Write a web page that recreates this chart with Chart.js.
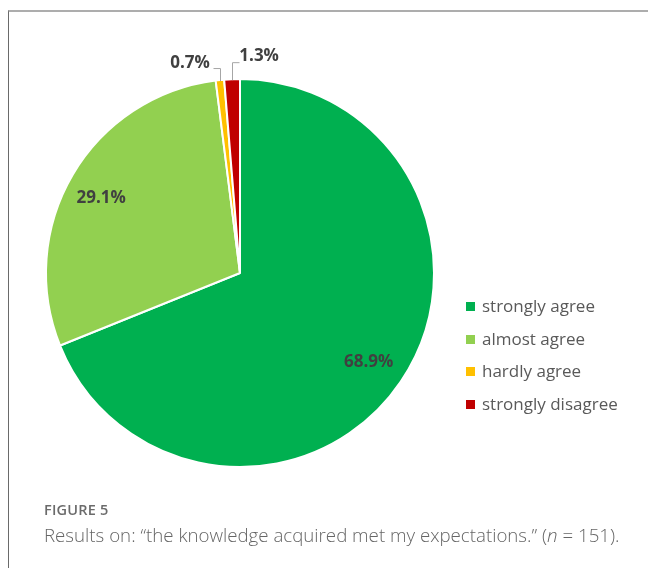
<!DOCTYPE html>
<html>
<head>
<meta charset="utf-8">
<script src="https://cdn.jsdelivr.net/npm/chart.js@4.4.0/dist/chart.umd.min.js"></script>
<style>
  html, body { margin: 0; padding: 0; background: #fff; }
  body { width: 648px; height: 568px; position: relative; overflow: hidden; font-family: "Open Sans", sans-serif; }
  #frame { position: absolute; left: 8px; top: 10px; width: 660px; height: 600px; border-top: 2px solid #adadad; border-left: 1px solid #6a6a6a; }
  #chartBox { position: absolute; left: 0; top: 0; width: 648px; height: 568px; }
  #legend { position: absolute; left: 466px; top: 294px; margin: 0; padding: 0; list-style: none; }
  #legend li { height: 32.7px; line-height: 24px; font-size: 17px; color: #595959; white-space: nowrap; }
  #legend span { display: inline-block; width: 9px; height: 9px; margin-right: 7px; vertical-align: 1px; }
  #figLabel { position: absolute; left: 44px; top: 500px; font-size: 14.5px; font-weight: 600; color: #6b6b6b; letter-spacing: 0.2px; }
  #caption { position: absolute; left: 44px; top: 522px; font-size: 18.7px; font-weight: 300; color: #666; white-space: nowrap; }
</style>
</head>
<body>
<div id="frame"></div>
<div id="chartBox"><canvas id="pieChart"></canvas></div>
<ul id="legend"></ul>
<div id="figLabel">FIGURE 5</div>
<div id="caption">Results on: “the knowledge acquired met my expectations.” (<i>n</i> = 151).</div>
<script>
const categories = ['strongly agree', 'almost agree', 'hardly agree', 'strongly disagree'];
const shares = [68.9, 29.1, 0.7, 1.3];
const sliceColors = ['#00B050', '#92D050', '#FFC000', '#C00000'];

// label placement per slice: inside slices use a radius fraction, tiny ones get a leader line
const labelStyle = [
    { inside: 0.80, shift: 2 },
    { inside: 0.83, shift: 7 },
    { dx: -30, dy: -18, elbow: -13, side: -1 },
    { dx: 27, dy: -24, elbow: -18, side: 1 }
];

const pieLabels = {
    id: 'pieLabels',
    afterDatasetsDraw(chart) {
        const ctx = chart.ctx;
        const arcs = chart.getDatasetMeta(0).data;
        ctx.save();
        ctx.font = 'bold 17px "Open Sans"';
        ctx.textAlign = 'center';
        ctx.textBaseline = 'middle';
        arcs.forEach(function (arc, i) {
            const text = shares[i].toFixed(1) + '%';
            const mid = (arc.startAngle + arc.endAngle) / 2;
            const st = labelStyle[i];
            if (st.inside) {
                const r = arc.outerRadius * st.inside;
                ctx.fillStyle = '#404040';
                ctx.fillText(text, arc.x + Math.cos(mid) * r, arc.y + Math.sin(mid) * r + st.shift);
            } else {
                const ex = arc.x + Math.cos(mid) * (arc.outerRadius - 1);
                const ey = arc.y + Math.sin(mid) * (arc.outerRadius - 1);
                ctx.strokeStyle = '#a6a6a6';
                ctx.lineWidth = 1;
                ctx.beginPath();
                ctx.moveTo(Math.round(ex) + 0.5, ey);
                ctx.lineTo(Math.round(ex) + 0.5, ey + st.elbow + 0.5);
                ctx.lineTo(Math.round(ex) + 0.5 + st.side * 7, ey + st.elbow + 0.5);
                ctx.stroke();
                ctx.fillStyle = '#404040';
                ctx.fillText(text, ex + st.dx, ey + st.dy);
            }
        });
        ctx.restore();
    }
};

const ctx = document.getElementById('pieChart').getContext('2d');
const pieChart = new Chart(ctx, {
    type: 'pie',
    data: {
        labels: categories,
        datasets: [{
            data: shares,
            backgroundColor: sliceColors,
            borderColor: '#ffffff',
            borderWidth: 2
        }]
    },
    options: {
        responsive: true,
        maintainAspectRatio: false,
        animation: false,
        layout: { padding: { top: 78, left: 45, right: 213, bottom: 100 } },
        plugins: {
            legend: { display: false },
            tooltip: { enabled: false }
        }
    },
    plugins: [pieLabels]
});

// legend built from the same arrays
const legendList = document.getElementById('legend');
categories.forEach(function (name, i) {
    const li = document.createElement('li');
    li.innerHTML = '<span style="background:' + sliceColors[i] + '"></span>' + name;
    legendList.appendChild(li);
});
</script>
</body>
</html>
